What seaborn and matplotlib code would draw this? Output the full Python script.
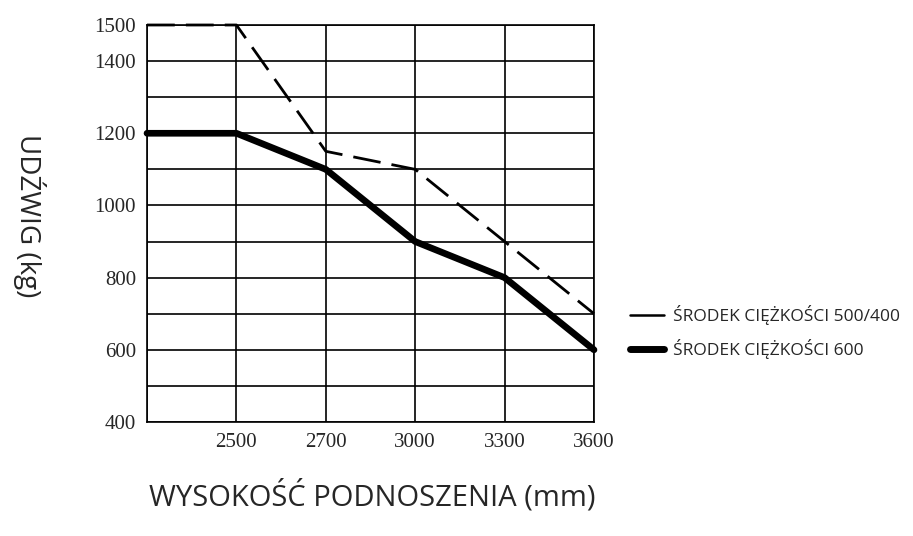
import pandas as pd
import numpy as np
import matplotlib.pyplot as plt
import seaborn as sns
from matplotlib.lines import Line2D

# data
height_labels = ["", "2500", "2700", "3000", "3300", "3600"]
load_500_400 = [1500, 1500, 1150, 1100, 900, 700]
load_600 = [1200, 1200, 1100, 900, 800, 600]
y_labels = [400, 600, 800, 1000, 1200, 1400, 1500]
series_names = ["ŚRODEK CIĘŻKOŚCI 500/400", "ŚRODEK CIĘŻKOŚCI 600"]

df = pd.DataFrame({
    "pos": list(range(len(height_labels))) * 2,
    "load": load_500_400 + load_600,
    "series": [series_names[0]] * len(height_labels) + [series_names[1]] * len(height_labels),
})

sns.set_style("white")
plt.rcParams["font.family"] = ["Open Sans", "DejaVu Sans"]

fig = plt.figure(figsize=(9.13, 5.36), dpi=100)
ax = fig.add_axes([147 / 913, (536 - 422) / 536, (594 - 147) / 913, (422 - 25) / 536])

# grid
ax.set_xlim(0, len(height_labels) - 1)
ax.set_ylim(400, 1500)
ax.set_xticks(range(len(height_labels)))
ax.set_yticks(np.arange(400, 1501, 100))
ax.grid(True, color="black", linewidth=1.2)
ax.set_axisbelow(True)
for s in ax.spines.values():
    s.set_color("black")
    s.set_linewidth(1.2)

d1 = df[df["series"] == series_names[0]]
d2 = df[df["series"] == series_names[1]]
sns.lineplot(data=d1, x="pos", y="load", color="black", linewidth=2.0,
             linestyle=(0, (10, 4)), ax=ax, legend=False, clip_on=False)
sns.lineplot(data=d2, x="pos", y="load", color="black", linewidth=4.8,
             ax=ax, legend=False, clip_on=False, solid_capstyle="round")

ax.set_xticklabels(height_labels, family="Liberation Serif", fontsize=15)
ax.set_yticklabels([str(v) if v in y_labels else "" for v in range(400, 1501, 100)],
                   family="Liberation Serif", fontsize=15)
ax.tick_params(length=0, pad=8)
ax.set_xlabel("WYSOKOŚĆ PODNOSZENIA (mm)", fontsize=21)
ax.xaxis.set_label_coords(0.505, -0.145)
ax.set_ylabel("UDŹWIG (kg)", fontsize=20, rotation=-90)
ax.yaxis.set_label_coords(-0.30, 0.52)

handles = [Line2D([], [], color="black", linewidth=1.8),
           Line2D([], [], color="black", linewidth=5)]
fig.legend(handles, series_names, loc="center left", bbox_to_anchor=(614 / 913, 1 - 332 / 536),
           frameon=False, fontsize=12.5, handlelength=2.0, handletextpad=0.5, labelspacing=0.8)

fig.savefig("out.png", dpi=100)
